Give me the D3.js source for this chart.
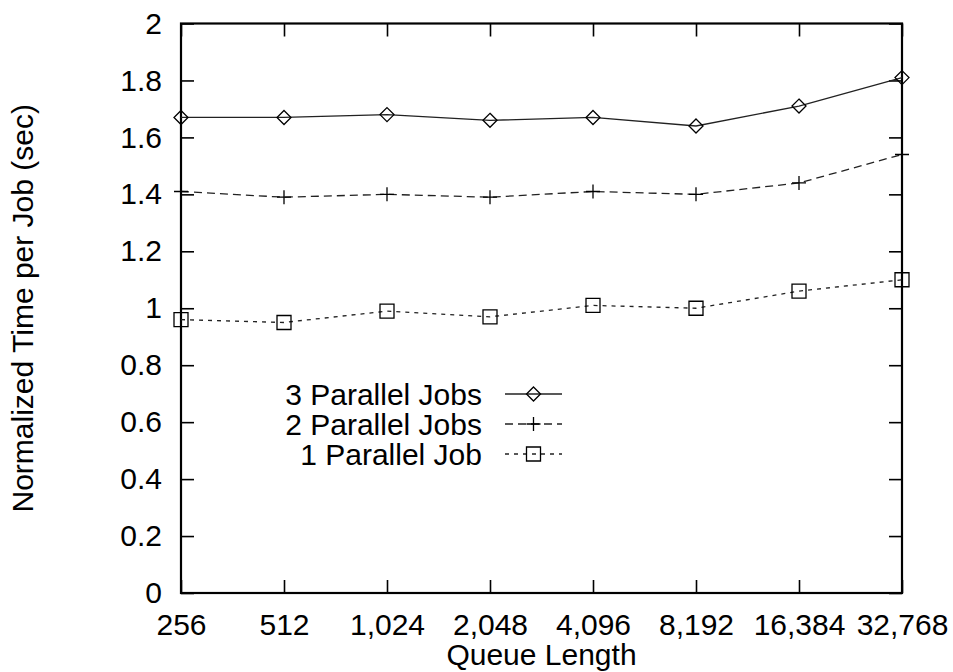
<!DOCTYPE html>
<html>
<head>
<meta charset="utf-8">
<script src="https://cdn.jsdelivr.net/npm/d3@7"></script>
<style>
  body { margin: 0; background: #fff; }
  svg text { font-family: "Liberation Sans", Arial, sans-serif; fill: #000; }
</style>
</head>
<body>
<div id="chart"></div>
<script>
// queue lengths (x categories) and normalized time per job for each series
var queueLengths = ["256", "512", "1,024", "2,048", "4,096", "8,192", "16,384", "32,768"];
var jobs3 = [1.67, 1.67, 1.68, 1.66, 1.67, 1.64, 1.71, 1.81];
var jobs2 = [1.41, 1.39, 1.40, 1.39, 1.41, 1.40, 1.44, 1.54];
var jobs1 = [0.96, 0.95, 0.99, 0.97, 1.01, 1.00, 1.06, 1.10];
var yTicks = [0, 0.2, 0.4, 0.6, 0.8, 1, 1.2, 1.4, 1.6, 1.8, 2];

var seriesNames = ["3 Parallel Jobs", "2 Parallel Jobs", "1 Parallel Job"];

var W = 953, H = 672;
var margin = {top: 23.5, right: 51, bottom: 79, left: 181};
var width = W - margin.left - margin.right;
var height = H - margin.top - margin.bottom;
var fontSize = 30;

var svg = d3.select("#chart").append("svg")
    .attr("width", W)
    .attr("height", H);

var g = svg.append("g")
    .attr("transform", "translate(" + margin.left + "," + margin.top + ")");

var x = d3.scalePoint()
    .domain(queueLengths)
    .range([0, width]);

var y = d3.scaleLinear()
    .domain([0, 2])
    .range([height, 0]);

// axes, ticks pointing inward (gnuplot style)
var xAxis = g.append("g")
    .attr("transform", "translate(0," + height + ")")
    .call(d3.axisBottom(x).tickSizeInner(-13).tickSizeOuter(0).tickPadding(21));

var yAxis = g.append("g")
    .call(d3.axisLeft(y).tickValues(yTicks).tickFormat(d3.format("")).tickSizeInner(-13).tickSizeOuter(0).tickPadding(19));

// mirrored ticks on top and right
var xTop = g.append("g")
    .call(d3.axisTop(x).tickSizeInner(-13).tickSizeOuter(0).tickFormat(""));
var yRight = g.append("g")
    .attr("transform", "translate(" + width + ",0)")
    .call(d3.axisRight(y).tickValues(yTicks).tickSizeInner(-13).tickSizeOuter(0).tickFormat(""));

[xAxis, yAxis, xTop, yRight].forEach(function (a) {
    a.select(".domain").remove();
    a.selectAll(".tick line").attr("stroke", "#000").attr("stroke-width", 1.6);
    a.selectAll(".tick text")
        .style("font-size", fontSize + "px")
        .style("font-family", "'Liberation Sans', Arial, sans-serif");
});

// border
g.append("rect")
    .attr("x", 0).attr("y", 0)
    .attr("width", width).attr("height", height)
    .attr("fill", "none")
    .attr("stroke", "#000")
    .attr("stroke-width", 2.2);

// axis titles
svg.append("text")
    .attr("x", margin.left + width / 2)
    .attr("y", 665)
    .attr("text-anchor", "middle")
    .style("font-size", fontSize + "px")
    .text("Queue Length");

svg.append("text")
    .attr("transform", "translate(33," + (margin.top + height / 2) + ") rotate(-90)")
    .attr("text-anchor", "middle")
    .style("font-size", fontSize + "px")
    .text("Normalized Time per Job (sec)");

// marker shapes
function diamond(s) { return "M0," + (-s) + "L" + s + ",0L0," + s + "L" + (-s) + ",0Z"; }
function plus(s) { return "M" + (-s) + ",0H" + s + "M0," + (-s) + "V" + s; }
function square(s) { return "M" + (-s) + "," + (-s) + "H" + s + "V" + s + "H" + (-s) + "Z"; }

var series = [
    {name: seriesNames[0], values: jobs3, dash: null, marker: diamond(7)},
    {name: seriesNames[1], values: jobs2, dash: "8,5", marker: plus(7)},
    {name: seriesNames[2], values: jobs1, dash: "4,5", marker: square(7)}
];

var line = d3.line()
    .x(function (d, i) { return x(queueLengths[i]); })
    .y(function (d) { return y(d); });

series.forEach(function (s) {
    g.append("path")
        .datum(s.values)
        .attr("d", line)
        .attr("fill", "none")
        .attr("stroke", "#222")
        .attr("stroke-width", 1.3)
        .attr("stroke-dasharray", s.dash);

    g.selectAll(null)
        .data(s.values)
        .enter().append("path")
        .attr("d", s.marker)
        .attr("transform", function (d, i) {
            return "translate(" + x(queueLengths[i]) + "," + y(d) + ")";
        })
        .attr("fill", "none")
        .attr("stroke", "#000")
        .attr("stroke-width", 1.3);
});

// legend
var legendTextX = 482, sampleX0 = 505, sampleX1 = 562;
var legend = svg.append("g");
series.forEach(function (s, i) {
    var ly = 394 + i * 30;
    legend.append("text")
        .attr("x", legendTextX)
        .attr("y", ly)
        .attr("dy", "0.36em")
        .attr("text-anchor", "end")
        .style("font-size", fontSize + "px")
        .text(s.name);
    legend.append("line")
        .attr("x1", sampleX0).attr("x2", sampleX1)
        .attr("y1", ly).attr("y2", ly)
        .attr("stroke", "#222")
        .attr("stroke-width", 1.3)
        .attr("stroke-dasharray", s.dash);
    legend.append("path")
        .attr("d", s.marker)
        .attr("transform", "translate(" + ((sampleX0 + sampleX1) / 2) + "," + ly + ")")
        .attr("fill", "none")
        .attr("stroke", "#000")
        .attr("stroke-width", 1.3);
});
</script>
</body>
</html>
